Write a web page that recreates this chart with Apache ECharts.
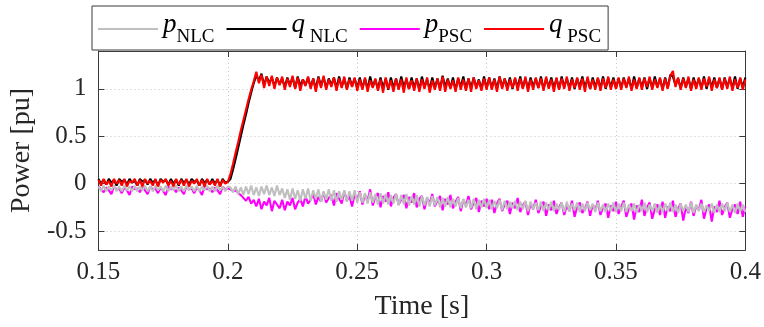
<!DOCTYPE html>
<html>
<head>
<meta charset="utf-8">
<script src="https://cdn.jsdelivr.net/npm/echarts@6/dist/echarts.min.js"></script>
<style>html,body{margin:0;padding:0;background:#fff;}#c{width:764px;height:327px;}</style>
</head>
<body>
<div id="c"></div>
<script>
// sampling grid of the traces
const T0 = 0.15, DT = 0.001;
const xTickLabels = [0.15, 0.2, 0.25, 0.3, 0.35, 0.4];
const yTickLabels = [-0.5, 0, 0.5, 1];
const seriesNames = ['pNLC', 'qNLC', 'pPSC', 'qPSC'];

const qPSC = [
0.04,-0.02,0.05,-0.01,0.03,-0.03,0.05,0.00,0.04,-0.02,
0.05,-0.03,0.03,0.01,0.05,-0.02,0.04,-0.03,0.05,0.00,
0.03,-0.02,0.05,-0.03,0.04,0.01,0.05,-0.02,0.03,-0.03,
0.05,-0.01,0.04,-0.02,0.05,-0.03,0.03,0.00,0.05,-0.02,
0.04,-0.03,0.05,-0.01,0.03,-0.02,0.05,-0.03,0.04,0.00,
0.02,
0.10,0.21,0.33,0.44,0.56,0.67,0.78,0.89,0.99,1.08,
1.18,1.06,1.15,1.01,1.13,1.03,1.14,1.00,1.12,1.04,
1.13,0.99,1.11,1.02,1.14,1.00,1.12,0.98,1.10,1.03,
1.13,1.00,1.11,0.97,1.12,1.01,1.14,0.99,1.10,1.02,
1.12,0.98,1.11,1.01,1.13,0.99,1.10,1.02,1.12,0.98,
1.10,0.99,1.12,0.97,1.09,1.01,1.11,0.98,1.10,0.96,
1.12,1.00,1.09,0.97,1.11,0.99,1.10,0.96,1.12,1.00,
1.09,0.98,1.11,0.97,1.10,1.00,1.12,0.96,1.09,0.99,
1.11,0.98,1.13,0.97,1.10,1.00,1.09,0.97,1.12,0.99,
1.10,0.98,1.11,0.97,1.12,1.00,1.09,0.98,1.11,0.99,
1.12,0.99,1.10,0.97,1.13,1.00,1.11,0.98,1.10,1.01,
1.12,0.98,1.11,1.00,1.13,0.97,1.10,0.99,1.12,1.01,
1.11,0.98,1.13,1.00,1.10,0.97,1.12,0.99,1.11,1.00,
1.13,0.98,1.10,1.01,1.12,0.99,1.11,0.97,1.13,1.00,
1.10,0.99,1.12,0.98,1.11,1.01,1.13,0.99,1.10,1.00,
1.12,0.99,1.11,1.01,1.13,0.98,1.10,1.00,1.12,0.99,
1.11,1.02,1.13,0.99,1.10,1.01,1.12,0.98,1.11,1.00,
1.14,1.19,1.02,1.12,0.99,1.11,1.01,1.13,0.98,1.10,
1.00,1.12,0.99,1.11,1.02,1.13,0.98,1.10,1.01,1.12,
0.99,1.11,1.00,1.13,0.98,1.10,1.01,1.12,0.99,1.10
];

const qNLC = [
0.05,0.00,0.04,-0.01,0.05,0.01,0.04,-0.02,0.05,0.02,
0.04,-0.01,0.05,0.01,0.03,-0.02,0.05,0.02,0.04,-0.01,
0.05,0.01,0.04,-0.02,0.05,0.02,0.04,-0.01,0.05,0.00,
0.04,-0.02,0.05,0.01,0.04,-0.01,0.05,0.02,0.03,-0.02,
0.05,0.01,0.04,-0.01,0.05,0.00,0.04,-0.02,0.05,0.01,
0.02,
0.05,0.15,0.26,0.38,0.50,0.62,0.73,0.85,0.96,1.06,
1.14,1.09,1.16,1.04,1.13,1.06,1.12,1.03,1.12,1.05,
1.11,1.02,1.12,1.04,1.12,1.01,1.13,1.03,1.10,1.04,
1.12,1.02,1.11,1.00,1.13,1.03,1.12,1.01,1.11,1.04,
1.12,1.01,1.13,1.02,1.11,1.00,1.12,1.03,1.11,1.01,
1.12,1.01,1.11,1.00,1.13,1.02,1.10,1.00,1.12,1.01,
1.11,0.99,1.12,1.01,1.11,1.00,1.13,1.02,1.10,1.00,
1.12,1.01,1.11,0.99,1.13,1.02,1.10,1.00,1.12,1.01,
1.11,1.00,1.14,1.02,1.11,1.01,1.12,0.99,1.11,1.02,
1.13,1.00,1.11,1.01,1.12,1.02,1.10,1.00,1.13,1.01,
1.12,1.01,1.11,1.00,1.13,1.02,1.11,1.01,1.12,1.00,
1.11,1.02,1.13,1.01,1.11,1.00,1.12,1.02,1.11,1.01,
1.13,1.00,1.11,1.02,1.12,1.01,1.11,1.00,1.13,1.02,
1.11,1.01,1.12,1.00,1.11,1.02,1.13,1.01,1.11,1.00,
1.12,1.02,1.11,1.01,1.13,1.00,1.11,1.02,1.12,1.01,
1.11,1.01,1.12,1.02,1.11,1.00,1.13,1.01,1.11,1.02,
1.12,1.00,1.11,1.01,1.13,1.02,1.11,1.00,1.12,1.01,
1.15,1.13,1.04,1.11,1.01,1.12,1.02,1.11,1.00,1.12,
1.02,1.11,1.01,1.13,1.00,1.11,1.02,1.12,1.01,1.11,
1.00,1.12,1.02,1.11,1.01,1.13,1.00,1.11,1.02,1.12
];

const pNLC = [
-0.03,-0.08,-0.02,-0.08,-0.03,-0.07,-0.02,-0.08,-0.03,-0.08,
-0.02,-0.07,-0.03,-0.08,-0.02,-0.08,-0.03,-0.07,-0.02,-0.08,
-0.03,-0.08,-0.02,-0.07,-0.03,-0.08,-0.02,-0.08,-0.03,-0.07,
-0.02,-0.08,-0.03,-0.08,-0.02,-0.07,-0.03,-0.08,-0.02,-0.08,
-0.03,-0.07,-0.02,-0.08,-0.03,-0.08,-0.02,-0.07,-0.03,-0.08,
-0.03,
-0.04,-0.09,-0.03,-0.11,-0.04,-0.12,-0.03,-0.11,-0.02,-0.12,
-0.04,-0.13,-0.03,-0.11,-0.02,-0.12,-0.04,-0.13,-0.02,-0.12,
-0.05,-0.15,-0.06,-0.17,-0.05,-0.16,-0.07,-0.18,-0.06,-0.16,
-0.05,-0.18,-0.07,-0.16,-0.06,-0.19,-0.08,-0.17,-0.06,-0.18,
-0.07,-0.19,-0.08,-0.17,-0.07,-0.19,-0.08,-0.18,-0.07,-0.20,
-0.09,-0.20,-0.10,-0.21,-0.09,-0.20,-0.11,-0.22,-0.10,-0.21,
-0.11,-0.22,-0.12,-0.21,-0.11,-0.23,-0.12,-0.22,-0.11,-0.23,
-0.13,-0.22,-0.12,-0.24,-0.13,-0.23,-0.14,-0.24,-0.13,-0.23,
-0.14,-0.25,-0.15,-0.24,-0.14,-0.25,-0.16,-0.24,-0.15,-0.26,
-0.16,-0.25,-0.17,-0.26,-0.16,-0.27,-0.17,-0.25,-0.16,-0.26,
-0.17,-0.27,-0.18,-0.26,-0.17,-0.28,-0.18,-0.27,-0.19,-0.26,
-0.18,-0.28,-0.19,-0.27,-0.18,-0.29,-0.19,-0.27,-0.20,-0.28,
-0.19,-0.29,-0.20,-0.28,-0.19,-0.29,-0.21,-0.28,-0.20,-0.30,
-0.19,-0.29,-0.21,-0.28,-0.20,-0.30,-0.21,-0.29,-0.20,-0.28,
-0.21,-0.30,-0.20,-0.29,-0.22,-0.30,-0.21,-0.29,-0.20,-0.30,
-0.21,-0.29,-0.20,-0.30,-0.22,-0.29,-0.21,-0.31,-0.22,-0.29,
-0.20,-0.30,-0.22,-0.29,-0.21,-0.31,-0.22,-0.30,-0.21,-0.29,
-0.20,-0.30,-0.22,-0.31,-0.21,-0.29,-0.22,-0.30,-0.20,-0.31,
-0.22,-0.29,-0.21,-0.30,-0.23,-0.29,-0.21,-0.31,-0.22,-0.30,
-0.21,-0.29,-0.20,-0.30,-0.22,-0.31,-0.21,-0.29,-0.22,-0.30
];

const pPSC = [
-0.03,-0.06,-0.09,-0.04,-0.07,-0.11,-0.03,-0.06,-0.05,-0.10,
-0.04,-0.07,-0.12,-0.03,-0.06,-0.05,-0.09,-0.04,-0.07,-0.11,
-0.03,-0.06,-0.05,-0.10,-0.04,-0.08,-0.12,-0.03,-0.06,-0.05,
-0.09,-0.04,-0.07,-0.11,-0.03,-0.06,-0.05,-0.10,-0.04,-0.07,
-0.12,-0.03,-0.06,-0.05,-0.09,-0.04,-0.07,-0.11,-0.03,-0.06,
-0.05,
-0.06,-0.08,-0.07,-0.10,-0.12,-0.15,-0.18,-0.14,-0.21,-0.17,
-0.24,-0.16,-0.27,-0.19,-0.23,-0.15,-0.29,-0.18,-0.22,-0.26,
-0.17,-0.28,-0.19,-0.23,-0.15,-0.27,-0.20,-0.16,-0.24,-0.13,
-0.21,-0.17,-0.11,-0.22,-0.14,-0.19,-0.09,-0.20,-0.15,-0.12,
-0.23,-0.10,-0.16,-0.21,-0.08,-0.18,-0.13,-0.24,-0.11,-0.17,
-0.08,-0.22,-0.12,-0.18,-0.06,-0.23,-0.14,-0.10,-0.25,-0.13,
-0.19,-0.09,-0.24,-0.15,-0.11,-0.22,-0.17,-0.12,-0.26,-0.14,
-0.20,-0.10,-0.25,-0.16,-0.13,-0.27,-0.15,-0.21,-0.11,-0.24,
-0.18,-0.13,-0.28,-0.16,-0.22,-0.12,-0.26,-0.19,-0.14,-0.29,
-0.17,-0.23,-0.13,-0.27,-0.20,-0.15,-0.30,-0.18,-0.24,-0.16,
-0.27,-0.17,-0.31,-0.21,-0.16,-0.29,-0.22,-0.18,-0.32,-0.20,
-0.26,-0.15,-0.30,-0.23,-0.19,-0.33,-0.21,-0.27,-0.17,-0.31,
-0.24,-0.19,-0.34,-0.22,-0.28,-0.18,-0.32,-0.25,-0.20,-0.33,
-0.23,-0.29,-0.18,-0.35,-0.24,-0.20,-0.31,-0.26,-0.19,-0.34,
-0.22,-0.28,-0.18,-0.33,-0.25,-0.21,-0.36,-0.23,-0.29,-0.19,
-0.32,-0.24,-0.18,-0.35,-0.26,-0.21,-0.38,-0.23,-0.30,-0.17,
-0.34,-0.25,-0.20,-0.37,-0.27,-0.22,-0.33,-0.19,-0.36,-0.24,
-0.29,-0.18,-0.35,-0.26,-0.21,-0.39,-0.25,-0.31,-0.19,-0.34,
-0.23,-0.28,-0.17,-0.37,-0.26,-0.22,-0.40,-0.24,-0.30,-0.18,
-0.33,-0.25,-0.20,-0.36,-0.27,-0.22,-0.32,-0.19,-0.35,-0.24
];

function pairs(arr) {
  return arr.map((v, i) => [Math.round((T0 + i * DT) * 1000) / 1000, v]);
}

const FONT = '"Liberation Serif", "Times New Roman", serif';
const TXT = '#262626';
const AX = '#3a3a3a';
const gridLine = { show: true, lineStyle: { color: '#c4c4c4', width: 1, type: [1, 3] } };

const legendLabel = {
  pNLC: '{i|p}{s|NLC}',
  qNLC: '{i|q}{s| NLC}',
  pPSC: '{i|p}{s|PSC}',
  qPSC: '{i|q}{s| PSC}'
};

const chart = echarts.init(document.getElementById('c'), null, { renderer: 'canvas' });
const lineSeries = (name, data, color, z) => ({
  name, type: 'line', data: pairs(data), showSymbol: false, symbol: 'none',
  lineStyle: { color, width: 2.1 }, itemStyle: { color }, z,
  xAxisIndex: 0, yAxisIndex: 0, animation: false, silent: true
});

chart.setOption({
  animation: false,
  backgroundColor: '#fff',
  grid: { left: 95, right: 16, top: 51, bottom: 77, containLabel: false },
  legend: {
    data: seriesNames,
    left: 92, top: 6,
    padding: [5, 7, 3, 6],
    icon: 'rect',
    itemWidth: 60, itemHeight: 2, itemGap: 12,
    backgroundColor: '#fff',
    borderColor: '#3a3a3a', borderWidth: 1, borderRadius: 0,
    formatter: n => legendLabel[n],
    textStyle: {
      color: '#000', fontFamily: FONT,
      rich: {
        i: { fontFamily: FONT, fontStyle: 'italic', fontSize: 27, padding: [0, 0, 9, 0], verticalAlign: 'bottom', color: '#000' },
        s: { fontFamily: FONT, fontSize: 19, padding: [0, 0, 0, 0], verticalAlign: 'bottom', color: '#000' }
      }
    }
  },
  xAxis: [
    {
      type: 'value', min: 0.15, max: 0.4, interval: 0.005, position: 'bottom',
      axisLine: { show: true, onZero: false, lineStyle: { color: AX, width: 1 } },
      axisTick: { show: true, inside: true, length: 6, customValues: xTickLabels, lineStyle: { color: AX } },
      axisLabel: { show: true, customValues: xTickLabels, color: TXT, fontFamily: FONT, fontSize: 25, margin: 10,
        formatter: v => String(+v.toFixed(3)) },
      splitLine: gridLine,
      name: 'Time [s]', nameLocation: 'middle', nameGap: 43,
      nameTextStyle: { color: TXT, fontFamily: FONT, fontSize: 28 }
    },
    {
      type: 'value', min: 0.15, max: 0.4, interval: 0.005, position: 'top',
      axisLine: { show: true, onZero: false, lineStyle: { color: AX, width: 1 } },
      axisTick: { show: true, inside: true, length: 6, customValues: xTickLabels, lineStyle: { color: AX } },
      axisLabel: { show: false }, splitLine: { show: false }
    }
  ],
  yAxis: [
    {
      type: 'value', min: -0.7, max: 1.4, interval: 0.1, position: 'left',
      axisLine: { show: true, onZero: false, lineStyle: { color: AX, width: 1 } },
      axisTick: { show: true, inside: true, length: 6, customValues: yTickLabels, lineStyle: { color: AX } },
      axisLabel: { show: true, customValues: yTickLabels, color: TXT, fontFamily: FONT, fontSize: 25, margin: 12,
        formatter: v => String(+v.toFixed(2)) },
      splitLine: gridLine,
      name: 'Power [pu]', nameLocation: 'middle', nameGap: 55, nameRotate: 90,
      nameTextStyle: { color: TXT, fontFamily: FONT, fontSize: 28 }
    },
    {
      type: 'value', min: -0.7, max: 1.4, interval: 0.1, position: 'right',
      axisLine: { show: true, onZero: false, lineStyle: { color: AX, width: 1 } },
      axisTick: { show: true, inside: true, length: 6, customValues: yTickLabels, lineStyle: { color: AX } },
      axisLabel: { show: false }, splitLine: { show: false }
    }
  ],
  series: [
    lineSeries('pPSC', pPSC, '#ff00ff', 2),
    lineSeries('pNLC', pNLC, '#bfbfbf', 3),
    lineSeries('qNLC', qNLC, '#000000', 4),
    lineSeries('qPSC', qPSC, '#ff0000', 5)
  ]
});
</script>
</body>
</html>
